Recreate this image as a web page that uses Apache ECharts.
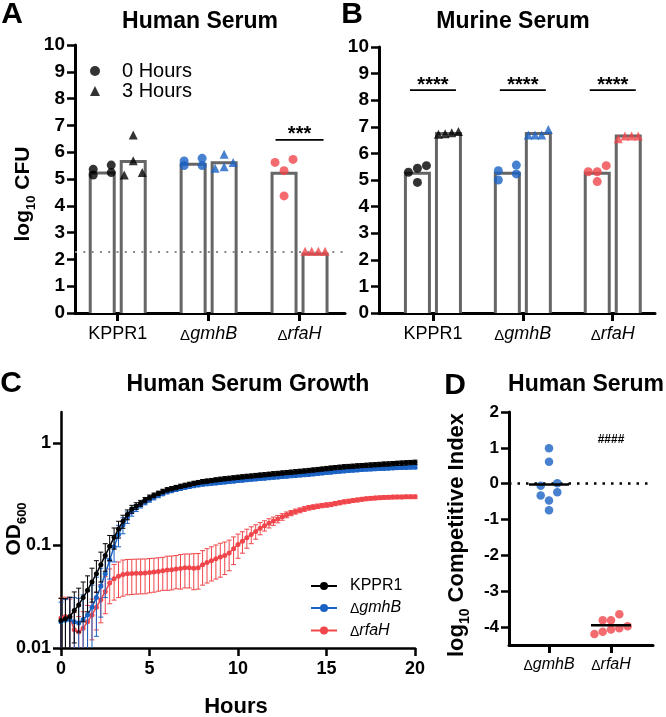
<!DOCTYPE html>
<html><head><meta charset="utf-8">
<script src="https://cdn.jsdelivr.net/npm/echarts@6/dist/echarts.min.js"></script>
<style>html,body{margin:0;padding:0;background:#fff}#c{width:666px;height:717px}</style>
</head><body><div id="c"></div><script>
// ---------------- DATA ----------------
const strains = ['KPPR1', 'ΔgmhB', 'ΔrfaH'];
// Panel A: Human serum, log10 CFU (points per strain)
const humanPts0h = [[5.52, 5.15, 5.36, 5.24], [5.5, 5.77, 5.5, 5.67], [5.62, 5.31, 5.73, 4.37]];
const humanPts3h = [[6.64, 5.68, 5.15, 5.24], [5.4, 5.62, 5.92, 5.46], [2.3, 2.3, 2.3, 2.3]];
const humanBar0h = [5.22, 5.55, 5.21];
const humanBar3h = [5.65, 5.61, 2.2];
const detectionLimit = 2.3;
const humanSigStrain = ['ΔrfaH'];
const humanSigLevel = [6.46];
const humanSigText = ['***'];
// Panel B: Murine serum
const murinePts0h = [[5.54, 5.29, 4.91, 5.44], [5.35, 5.0, 5.56, 5.23], [5.54, 5.31, 4.94, 5.31]];
const murinePts3h = [[6.72, 6.82, 6.74, 6.78], [6.69, 6.9, 6.69, 6.69], [6.55, 6.65, 6.65, 6.65]];
const murineBar0h = [5.25, 5.25, 5.25];
const murineBar3h = [6.75, 6.75, 6.65];
const murineSigStrain = ['KPPR1', 'ΔgmhB', 'ΔrfaH'];
const murineSigLevel = [8.38, 8.38, 8.38];
const murineSigText = ['****', '****', '****'];
// Panel C: growth curves (OD600)
const hours = [0,0.25,0.5,0.75,1,1.25,1.5,1.75,2,2.25,2.5,2.75,3,3.25,3.5,3.75,4,4.25,4.5,4.75,5,
  5.25,5.5,5.75,6,6.25,6.5,6.75,7,7.25,7.5,7.75,8,8.25,8.5,8.75,9,9.25,9.5,9.75,10,
  10.25,10.5,10.75,11,11.25,11.5,11.75,12,12.25,12.5,12.75,13,13.25,13.5,13.75,14,14.25,14.5,14.75,15,
  15.25,15.5,15.75,16,16.25,16.5,16.75,17,17.25,17.5,17.75,18,18.25,18.5,18.75,19,19.25,19.5,19.75,20];
const kppr1OD = [0.0185,0.0193,0.0203,0.0232,0.0263,0.031,0.0365,0.044,0.053,0.065,0.08,0.098,0.12,0.145,0.172,0.2,0.226,0.243,0.258,0.277,0.294,
  0.308,0.322,0.336,0.349,0.358,0.367,0.377,0.386,0.394,0.403,0.411,0.419,0.424,0.43,0.436,0.442,0.447,0.452,0.457,0.462,
  0.467,0.472,0.476,0.481,0.485,0.49,0.495,0.5,0.504,0.509,0.514,0.518,0.523,0.528,0.533,0.538,0.544,0.55,0.556,0.562,
  0.568,0.574,0.58,0.585,0.589,0.593,0.597,0.601,0.605,0.609,0.613,0.617,0.621,0.624,0.628,0.632,0.635,0.639,0.643,0.647];
const kppr1SD = [0.012,0.011,0.011,0.012,0.012,0.013,0.014,0.016,0.018,0.021,0.024,0.027,0.028,0.027,0.025,0.022,0.02,0.018,0.017,0.016,0.016,
  0.016,0.016,0.017,0.017,0.017,0.018,0.018,0.018,0.019,0.019,0.019,0.02,0.02,0.02,0.02,0.021,0.021,0.021,0.021,0.022,
  0.022,0.022,0.022,0.023,0.023,0.023,0.023,0.024,0.024,0.024,0.024,0.025,0.025,0.025,0.025,0.026,0.026,0.026,0.026,0.027,
  0.027,0.027,0.027,0.028,0.028,0.028,0.028,0.029,0.029,0.029,0.029,0.03,0.03,0.03,0.03,0.03,0.031,0.031,0.031,0.031];
const gmhbOD = [0.018,0.0186,0.019,0.018,0.0175,0.019,0.021,0.025,0.031,0.04,0.053,0.072,0.097,0.127,0.158,0.188,0.213,0.232,0.248,0.264,0.279,
  0.293,0.307,0.32,0.333,0.342,0.351,0.36,0.368,0.375,0.382,0.389,0.395,0.399,0.403,0.407,0.411,0.415,0.419,0.424,0.429,
  0.433,0.437,0.441,0.445,0.449,0.453,0.457,0.461,0.465,0.469,0.473,0.477,0.481,0.485,0.489,0.493,0.498,0.503,0.508,0.513,
  0.518,0.523,0.528,0.533,0.537,0.541,0.545,0.549,0.552,0.555,0.558,0.561,0.564,0.567,0.57,0.572,0.574,0.576,0.578,0.58];
const gmhbSD = [0.01,0.011,0.012,0.013,0.013,0.014,0.015,0.016,0.018,0.02,0.022,0.025,0.028,0.03,0.028,0.024,0.02,0.018,0.016,0.015,0.015,
  0.015,0.015,0.015,0.015,0.015,0.015,0.016,0.016,0.016,0.016,0.016,0.016,0.017,0.017,0.017,0.017,0.017,0.017,0.018,0.018,
  0.018,0.018,0.018,0.018,0.018,0.019,0.019,0.019,0.019,0.019,0.019,0.019,0.02,0.02,0.02,0.02,0.02,0.02,0.02,0.02,
  0.02,0.02,0.021,0.021,0.021,0.021,0.021,0.021,0.021,0.022,0.022,0.022,0.022,0.022,0.022,0.022,0.022,0.022,0.022,0.022];
const rfahOD = [0.0196,0.0203,0.02,0.0151,0.0143,0.0156,0.018,0.021,0.025,0.0296,0.0356,0.043,0.0473,0.05,0.052,0.053,0.0532,0.0535,0.0537,0.0538,0.0545,
  0.055,0.0558,0.0565,0.0575,0.0578,0.0588,0.0595,0.0605,0.0605,0.06,0.0605,0.065,0.068,0.071,0.074,0.077,0.08,0.0846,0.093,0.102,
  0.11,0.119,0.128,0.137,0.147,0.156,0.165,0.173,0.181,0.19,0.199,0.207,0.214,0.22,0.227,0.233,0.237,0.241,0.245,0.248,
  0.251,0.256,0.261,0.266,0.27,0.274,0.278,0.282,0.285,0.288,0.29,0.292,0.294,0.295,0.296,0.297,0.297,0.298,0.298,0.298];
const rfahSD = [0.011,0.011,0.01,0.007,0.006,0.007,0.008,0.009,0.01,0.012,0.014,0.016,0.018,0.019,0.02,0.02,0.02,0.02,0.02,0.02,0.02,
  0.02,0.02,0.02,0.021,0.021,0.021,0.022,0.022,0.022,0.023,0.023,0.024,0.025,0.026,0.027,0.028,0.028,0.028,0.028,0.027,
  0.026,0.025,0.024,0.022,0.02,0.018,0.017,0.016,0.015,0.014,0.013,0.012,0.012,0.012,0.012,0.012,0.012,0.012,0.012,0.012,
  0.012,0.012,0.012,0.012,0.012,0.012,0.012,0.012,0.012,0.012,0.012,0.012,0.012,0.012,0.012,0.012,0.012,0.012,0.012,0.012];
// Panel D: competitive index
const ciStrains = ['ΔgmhB', 'ΔrfaH'];
const ciPts = [[0.99, 0.61, -0.06, 0.01, -0.33, -0.24, -0.47, -0.74], [-3.64, -4.13, -3.98, -3.81, -4.07, -3.81, -4.03, -4.19]];
const ciMean = [-0.02, -3.95];
const ciSigStrain = ['ΔrfaH'];
const ciSigLevel = [1.22];
const ciSigText = ['####'];
const ciTicks = [-4, -3, -2, -1, 0, 1, 2];
const odTicks = [0.01, 0.1, 1];

// ---------------- STYLE ----------------
const FONT = '"Liberation Sans", Arial, Helvetica, sans-serif';
const BLACK = '#000', BLUE = '#1a62c4', RED = '#f0464b', GREY = '#666';
const strainColor = { 'KPPR1': BLACK, 'ΔgmhB': BLUE, 'ΔrfaH': RED };

function deltaLabel(name) {
  return name.charAt(0) === 'Δ' ? '{d|Δ}{i|' + name.slice(1) + '}' : '{n|' + name + '}';
}
function richFor(size) {
  return {
    n: { fontSize: size, color: '#000', fontFamily: FONT },
    d: { fontSize: Math.round(size * 0.85), color: '#000', fontFamily: FONT, padding: [3, 0, 0, 0] },
    i: { fontSize: size, color: '#000', fontFamily: FONT, fontStyle: 'italic' }
  };
}

// column-style layout of points (like a scatter dot plot)
function swarm(vals, pxPerUnit, thr, d, maxW) {
  const idx = vals.map((v, i) => i).sort((a, b) => vals[b] - vals[a]);
  const rows = []; let cur = null;
  idx.forEach(i => {
    if (cur && (vals[cur[0]] - vals[i]) * pxPerUnit < thr) cur.push(i);
    else { cur = [i]; rows.push(cur); }
  });
  const off = vals.map(() => 0);
  rows.forEach(r => {
    r.sort((a, b) => vals[a] - vals[b]);
    const k = r.length;
    if (k === 2) { off[r[0]] = -d; off[r[1]] = d; }
    else if (k > 2) { const s = Math.min(d, maxW / (k - 1)); r.forEach((i, j) => { off[i] = (j - (k - 1) / 2) * s; }); }
  });
  return off;
}

function pointSeries(name, g, pts, cats, symbol, size, shift, pxPerUnit, lay) {
  const data = [];
  pts.forEach((vals, ci) => {
    const off = swarm(vals, pxPerUnit, lay.thr, lay.d, lay.maxW);
    vals.forEach((v, k) => data.push({
      value: [ci, v], symbolOffset: [shift + off[k], 0],
      itemStyle: { color: strainColor[cats[ci]] }
    }));
  });
  return { type: 'scatter', name, xAxisIndex: g, yAxisIndex: g, symbol, symbolSize: size, data, z: 6, silent: true };
}

function barSeries(g, vals, shift) {
  return {
    type: 'custom', name: 'bar' + g + shift, xAxisIndex: g, yAxisIndex: g, z: 2, silent: true,
    data: vals.map((v, i) => [i, v]),
    renderItem: (p, api) => {
      const top = api.coord([api.value(0), api.value(1)]);
      const base = api.coord([api.value(0), 0]);
      const cx = top[0] + shift, hw = 12;
      return { type: 'group', children: [
        { type: 'rect', shape: { x: cx - hw, y: top[1], width: hw * 2, height: base[1] - top[1] }, style: { fill: '#fff' } },
        { type: 'polyline', shape: { points: [[cx - hw, base[1]], [cx - hw, top[1]], [cx + hw, top[1]], [cx + hw, base[1]]] },
          style: { stroke: GREY, lineWidth: 3, fill: null } }
      ] };
    }
  };
}

function sigSeries(g, cats, sigCats, levels, texts, halfW, fontSize, dy) {
  return {
    type: 'custom', name: 'sig' + g, xAxisIndex: g, yAxisIndex: g, z: 7, silent: true,
    data: sigCats.map((s, i) => [cats.indexOf(s), levels[i]]),
    renderItem: (p, api) => {
      const c = api.coord([api.value(0), api.value(1)]);
      const ch = [];
      if (halfW > 0) ch.push({ type: 'line', shape: { x1: c[0] - halfW, y1: c[1], x2: c[0] + halfW, y2: c[1] }, style: { stroke: '#000', lineWidth: 1.6 } });
      ch.push({ type: 'text', x: c[0], y: c[1] + dy, style: { text: texts[p.dataIndex], fill: '#000', font: 'bold ' + fontSize + 'px ' + FONT, align: 'center', textAlign: 'center', verticalAlign: 'middle', textVerticalAlign: 'middle' } });
      return { type: 'group', children: ch };
    }
  };
}

function errSeries(name, od, sd, color, z) {
  return {
    type: 'custom', name: name + ' SD', xAxisIndex: 2, yAxisIndex: 2, z, silent: true,
    data: hours.map((t, i) => [t, od[i], sd[i]]),
    renderItem: (p, api) => {
      const t = api.value(0), m = api.value(1), s = api.value(2);
      const lo = Math.max(m - s, 0.01), hi = m + s;
      const a = api.coord([t, hi]), b = api.coord([t, lo]);
      const w = 2.5, st = { stroke: color, lineWidth: 1 };
      const ch = [{ type: 'line', shape: { x1: a[0], y1: a[1], x2: b[0], y2: b[1] }, style: st },
                  { type: 'line', shape: { x1: a[0] - w, y1: a[1], x2: a[0] + w, y2: a[1] }, style: st }];
      if (m - s > 0.01) ch.push({ type: 'line', shape: { x1: b[0] - w, y1: b[1], x2: b[0] + w, y2: b[1] }, style: st });
      return { type: 'group', children: ch };
    }
  };
}

function growthSeries(name, od, color, z) {
  return {
    type: 'line', name, xAxisIndex: 2, yAxisIndex: 2, z, silent: true,
    data: hours.map((t, i) => [t, od[i]]),
    symbol: 'circle', symbolSize: 5, showSymbol: true,
    lineStyle: { color, width: 1.5 }, itemStyle: { color }
  };
}

const axisLineStyle = (w) => ({ show: true, onZero: false, lineStyle: { color: '#000', width: w } });
const tickStyle = (w, len, vals) => { const o = { show: true, length: len, lineStyle: { color: '#000', width: w } }; if (vals) o.customValues = vals; return o; };
const boldLabel = (size, margin) => ({ color: '#000', fontFamily: FONT, fontWeight: 'bold', fontSize: size, margin });

function catXAxis(g, min, max, cats, fs, margin, w) {
  return {
    gridIndex: g, type: 'value', min, max,
    axisLine: axisLineStyle(w), axisTick: tickStyle(w, 8, cats.map((c, i) => i)),
    axisLabel: { customValues: cats.map((c, i) => i), formatter: v => deltaLabel(cats[Math.round(v)]), margin, rich: richFor(fs) },
    splitLine: { show: false }
  };
}
function cfuYAxis(g) {
  return {
    gridIndex: g, type: 'value', min: 0, max: 10, interval: 1,
    axisLine: axisLineStyle(3), axisTick: tickStyle(2.5, 8), axisLabel: boldLabel(19, 10), splitLine: { show: false }
  };
}

const layAB = { thr: 6.75, d: 9, maxW: 20 };
const layD = { thr: 8, d: 8.3, maxW: 34 };

function txt(x, y, text, font, rot, rich) {
  const st = { text, font, fill: '#000', align: 'center', textAlign: 'center', verticalAlign: 'middle', textVerticalAlign: 'middle' };
  if (rich) st.rich = rich;
  return { type: 'text', x, y, rotation: rot || 0, style: st, z: 10 };
}
const subRich = (main, sub) => ({
  b: { font: 'bold ' + main + 'px ' + FONT, fill: '#000', lineHeight: 30 },
  s: { font: 'bold ' + sub + 'px ' + FONT, fill: '#000', lineHeight: 13, verticalAlign: 'bottom' }
});

const option = {
  animation: false,
  backgroundColor: '#fff',
  grid: [
    { left: 75, top: 45, width: 270, height: 268 },
    { left: 379, top: 47, width: 276, height: 266 },
    { left: 61, top: 412, width: 354, height: 236 },
    { left: 509, top: 412, width: 144, height: 233 }
  ],
  xAxis: [
    catXAxis(0, -0.47, 2.5, strains, 18, 12, 3),
    catXAxis(1, -0.6, 2.47, strains, 18, 12, 3),
    { gridIndex: 2, type: 'value', min: 0, max: 20, interval: 5, axisLine: axisLineStyle(2.5), axisTick: tickStyle(2.5, 8),
      axisLabel: boldLabel(18, 12), splitLine: { show: false } },
    catXAxis(3, -0.645, 1.677, ciStrains, 16, 11, 3)
  ],
  yAxis: [
    cfuYAxis(0),
    cfuYAxis(1),
    { gridIndex: 2, type: 'log', min: 0.01, max: 2, axisLine: axisLineStyle(2.5), axisTick: tickStyle(2.5, 8, odTicks),
      axisLabel: Object.assign(boldLabel(18, 10), { customValues: odTicks, formatter: v => String(Number(v.toPrecision(2))) }),
      splitLine: { show: false }, minorTick: { show: false } },
    { gridIndex: 3, type: 'value', min: -4.5, max: 2, axisLine: axisLineStyle(3), axisTick: tickStyle(2.5, 8, ciTicks),
      axisLabel: Object.assign(boldLabel(17, 10), { customValues: ciTicks }), splitLine: { show: false } }
  ],
  legend: [
    { data: [{ name: '0 Hours', icon: 'circle', itemStyle: { color: '#000' } }, { name: '3 Hours', icon: 'triangle', itemStyle: { color: '#000' } }],
      left: 90, top: 61, orient: 'vertical', itemWidth: 10, itemHeight: 10, itemGap: 0, padding: 0, selectedMode: false,
      textStyle: { fontSize: 20, color: '#000', fontFamily: FONT, padding: [0, 0, 0, 17] } },
    { data: ['KPPR1', 'ΔgmhB', 'ΔrfaH'], left: 310, top: 578, orient: 'vertical', itemWidth: 26, itemHeight: 10, itemGap: 6, padding: 0,
      selectedMode: false, formatter: n => deltaLabel(n),
      textStyle: { fontSize: 16, color: '#000', fontFamily: FONT, padding: [0, 0, 0, 8], rich: richFor(16) } }
  ],
  series: [
    // Panel A
    barSeries(0, humanBar0h, -15.5),
    barSeries(0, humanBar3h, 15.5),
    { type: 'line', name: 'lod', xAxisIndex: 0, yAxisIndex: 0, data: [], z: 4, silent: true,
      markLine: { symbol: ['none', 'none'], silent: true, label: { show: false },
        lineStyle: { color: '#888', type: [2, 6.3], width: 2 }, data: [{ yAxis: detectionLimit }] } },
    pointSeries('0 Hours', 0, humanPts0h, strains, 'circle', 9, -15.5, 26.8, layAB),
    pointSeries('3 Hours', 0, humanPts3h, strains, 'triangle', 9, 15.5, 26.8, layAB),
    sigSeries(0, strains, humanSigStrain, humanSigLevel, humanSigText, 24, 20, -5),
    // Panel B
    barSeries(1, murineBar0h, -15.5),
    barSeries(1, murineBar3h, 15.5),
    pointSeries('0 Hours', 1, murinePts0h, strains, 'circle', 9, -15.5, 26.6, layAB),
    pointSeries('3 Hours', 1, murinePts3h, strains, 'triangle', 9, 15.5, 26.6, layAB),
    sigSeries(1, strains, murineSigStrain, murineSigLevel, murineSigText, 23, 20, -5),
    // Panel C
    errSeries('ΔrfaH', rfahOD, rfahSD, RED, 3),
    growthSeries('ΔrfaH', rfahOD, RED, 4),
    errSeries('ΔgmhB', gmhbOD, gmhbSD, BLUE, 5),
    growthSeries('ΔgmhB', gmhbOD, BLUE, 6),
    errSeries('KPPR1', kppr1OD, kppr1SD, BLACK, 7),
    growthSeries('KPPR1', kppr1OD, BLACK, 8),
    // Panel D
    { type: 'line', name: 'zero', xAxisIndex: 3, yAxisIndex: 3, data: [], z: 3, silent: true,
      markLine: { symbol: ['none', 'none'], silent: true, label: { show: false },
        lineStyle: { color: '#000', type: [2.5, 6], width: 2.5 }, data: [{ yAxis: 0 }] } },
    pointSeries('CI', 3, ciPts, ciStrains, 'circle', 8.5, 0, 35.8, layD),
    { type: 'custom', name: 'mean', xAxisIndex: 3, yAxisIndex: 3, z: 7, silent: true,
      data: ciMean.map((m, i) => [i, m]),
      renderItem: (p, api) => {
        const c = api.coord([api.value(0), api.value(1)]);
        return { type: 'line', shape: { x1: c[0] - 20, y1: c[1], x2: c[0] + 20, y2: c[1] }, style: { stroke: '#000', lineWidth: 2.5 } };
      } },
    sigSeries(3, ciStrains, ciSigStrain, ciSigLevel, ciSigText, 0, 12, 0)
  ],
  graphic: [
    txt(12, 15, 'A', 'bold 30px ' + FONT),
    txt(352, 15, 'B', 'bold 30px ' + FONT),
    txt(11, 384, 'C', 'bold 30px ' + FONT),
    txt(455, 386, 'D', 'bold 30px ' + FONT),
    txt(200, 22, 'Human Serum', 'bold 23px ' + FONT),
    txt(513, 22, 'Murine Serum', 'bold 23px ' + FONT),
    txt(248, 385, 'Human Serum Growth', 'bold 23px ' + FONT),
    txt(586, 385, 'Human Serum', 'bold 23px ' + FONT),
    txt(236, 707, 'Hours', 'bold 22px ' + FONT),
    txt(23, 194, '{b|log}{s|10}{b| CFU}', 'bold 21px ' + FONT, Math.PI / 2, subRich(21, 13)),
    txt(14, 529, '{b|OD}{s|600}', 'bold 21px ' + FONT, Math.PI / 2, subRich(21, 13)),
    txt(457, 535, '{b|log}{s|10}{b| Competitive Index}', 'bold 22px ' + FONT, Math.PI / 2, subRich(22, 14))
  ]
};

const chart = echarts.init(document.getElementById('c'), null, { renderer: 'canvas', width: 666, height: 717 });
chart.setOption(option);
</script></body></html>
